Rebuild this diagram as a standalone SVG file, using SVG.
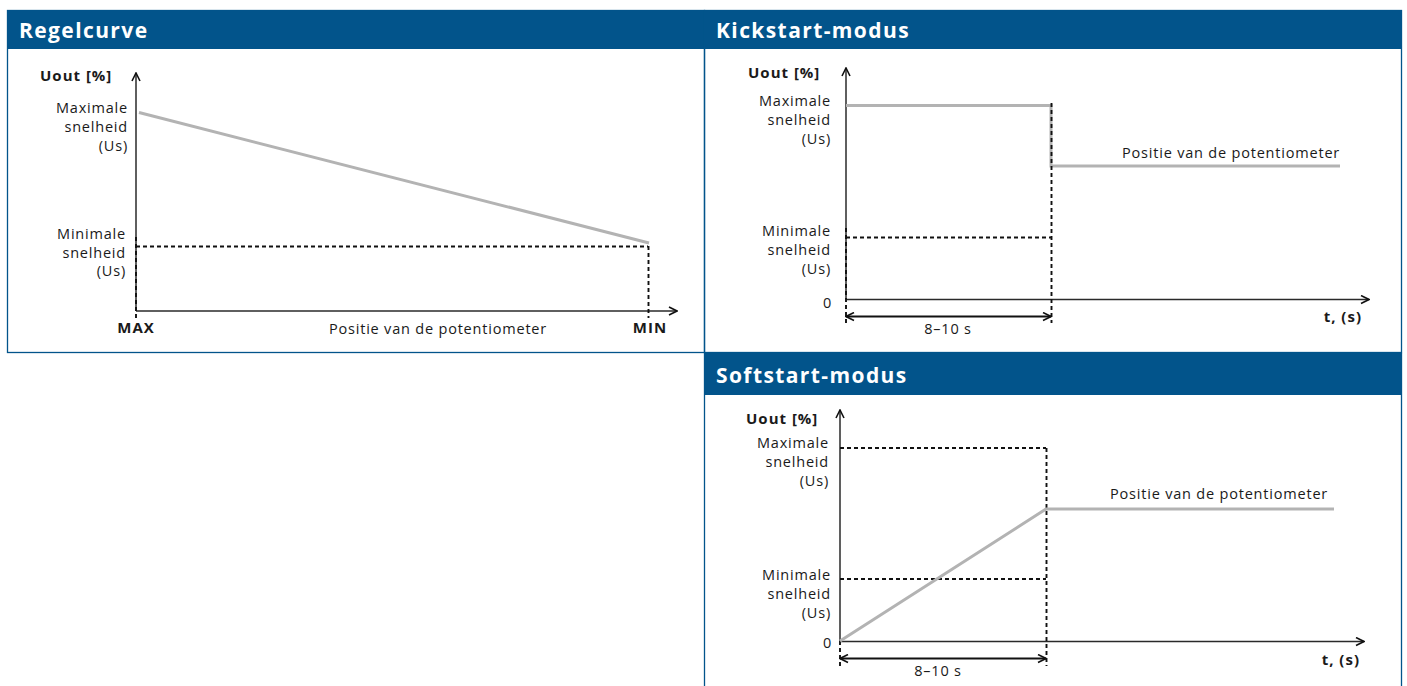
<svg xmlns="http://www.w3.org/2000/svg" width="1407" height="686" viewBox="0 0 1407 686">
<style>
.hdr{fill:#02548b}
.frame{fill:none;stroke:#02548b;stroke-width:1.3}
.ttl{font-family:"Open Sans","Liberation Sans",sans-serif;font-weight:700;font-size:21px;letter-spacing:1.4px;fill:#fff}
.lbl{font-family:"Open Sans","Liberation Sans",sans-serif;font-size:14.5px;letter-spacing:0.8px;fill:#1a1a1a}
.r{text-anchor:end}
.m{text-anchor:middle}
.b{font-weight:700;font-size:15px;letter-spacing:1px}
.axis{stroke:#2a2a2a;stroke-width:1.5;fill:none}
.curve{stroke:#b3b3b3;stroke-width:3;fill:none}
.dash{stroke:#111;stroke-width:1.9;stroke-dasharray:4,3;fill:none}
.dim{stroke:#111;stroke-width:2;fill:none}
</style>
<defs>
<marker id="ah" viewBox="0 0 10 10" refX="9" refY="5" markerWidth="10" markerHeight="10" markerUnits="userSpaceOnUse" orient="auto-start-reverse">
<path d="M1,1 L9,5 L1,9" fill="none" stroke="#111" stroke-width="1.6"/>
</marker>
</defs>

<g id="panel-regelcurve">
<rect class="frame" x="7.5" y="10.5" width="697" height="342"/>
<rect class="hdr" x="7" y="10" width="698" height="39"/>
<text class="ttl" x="19" y="38">Regelcurve</text>
</g>
<g id="panel-kickstart">
<rect class="frame" x="704.5" y="10.5" width="697" height="342"/>
<rect class="hdr" x="704" y="10" width="698" height="39"/>
<text class="ttl" x="716" y="38">Kickstart-modus</text>
</g>
<g id="panel-softstart">
<path class="frame" d="M704.5,686 V353.5 H1401.5 V686"/>
<rect class="hdr" x="704" y="353" width="698" height="42"/>
<text class="ttl" x="716" y="383">Softstart-modus</text>
</g>

<g id="chart-regelcurve">
<text class="lbl b" x="40" y="81">Uout [%]</text>
<text class="lbl r" x="128" y="113">Maximale</text>
<text class="lbl r" x="128" y="132">snelheid</text>
<text class="lbl r" x="128" y="151">(Us)</text>
<text class="lbl r" x="126" y="239">Minimale</text>
<text class="lbl r" x="126" y="258">snelheid</text>
<text class="lbl r" x="126" y="276">(Us)</text>
<text class="lbl b m" x="136" y="333">MAX</text>
<text class="lbl m" x="438" y="334">Positie van de potentiometer</text>
<text class="lbl b m" x="650" y="333">MIN</text>
</g>
<g id="chart-kickstart">
<text class="lbl b" x="748" y="78">Uout [%]</text>
<text class="lbl r" x="831" y="106">Maximale</text>
<text class="lbl r" x="831" y="125">snelheid</text>
<text class="lbl r" x="831" y="144">(Us)</text>
<text class="lbl r" x="831" y="236">Minimale</text>
<text class="lbl r" x="831" y="255">snelheid</text>
<text class="lbl r" x="831" y="274">(Us)</text>
<text class="lbl r" x="832" y="308">0</text>
<text class="lbl m" x="948" y="334">8–10 s</text>
<text class="lbl" x="1122" y="158">Positie van de potentiometer</text>
<text class="lbl b r" x="1362" y="322">t, (s)</text>
</g>
<g id="chart-softstart">
<text class="lbl b" x="746" y="424">Uout [%]</text>
<text class="lbl r" x="829" y="448">Maximale</text>
<text class="lbl r" x="829" y="467">snelheid</text>
<text class="lbl r" x="829" y="486">(Us)</text>
<text class="lbl r" x="831" y="580">Minimale</text>
<text class="lbl r" x="831" y="599">snelheid</text>
<text class="lbl r" x="831" y="618">(Us)</text>
<text class="lbl r" x="832" y="648">0</text>
<text class="lbl m" x="938" y="676">8–10 s</text>
<text class="lbl" x="1110" y="499">Positie van de potentiometer</text>
<text class="lbl b r" x="1360" y="665">t, (s)</text>
</g>

<g id="connectors">
<!-- Regelcurve -->
<path class="axis" d="M136,311 V73" marker-end="url(#ah)"/>
<path class="axis" d="M136,311 H677" marker-end="url(#ah)"/>
<path class="curve" d="M139,112.5 L649,243"/>
<path class="dash" d="M136,246.5 H648 M648.5,246 V318 M136,237 V318"/>
<!-- Kickstart -->
<path class="axis" d="M846,299 V68" marker-end="url(#ah)"/>
<path class="axis" d="M846,299.5 H1369" marker-end="url(#ah)"/>
<path class="curve" d="M846,105.5 H1051 V166 H1340"/>
<path class="dash" d="M846,237.5 H1051 M1051.5,103 V323 M846,228 V323"/>
<path class="dim" d="M846,316.5 H1051" marker-start="url(#ah)" marker-end="url(#ah)"/>
<!-- Softstart -->
<path class="axis" d="M840,641 V410" marker-end="url(#ah)"/>
<path class="axis" d="M840,641.5 H1364" marker-end="url(#ah)"/>
<path class="dash" d="M840,448 H1046 M1046.5,448 V666 M840,579 H1046 M840,641 V666"/>
<path class="curve" d="M840,641 L1046,509 H1334"/>
<path class="dim" d="M840,658.5 H1046" marker-start="url(#ah)" marker-end="url(#ah)"/>
</g>
</svg>
